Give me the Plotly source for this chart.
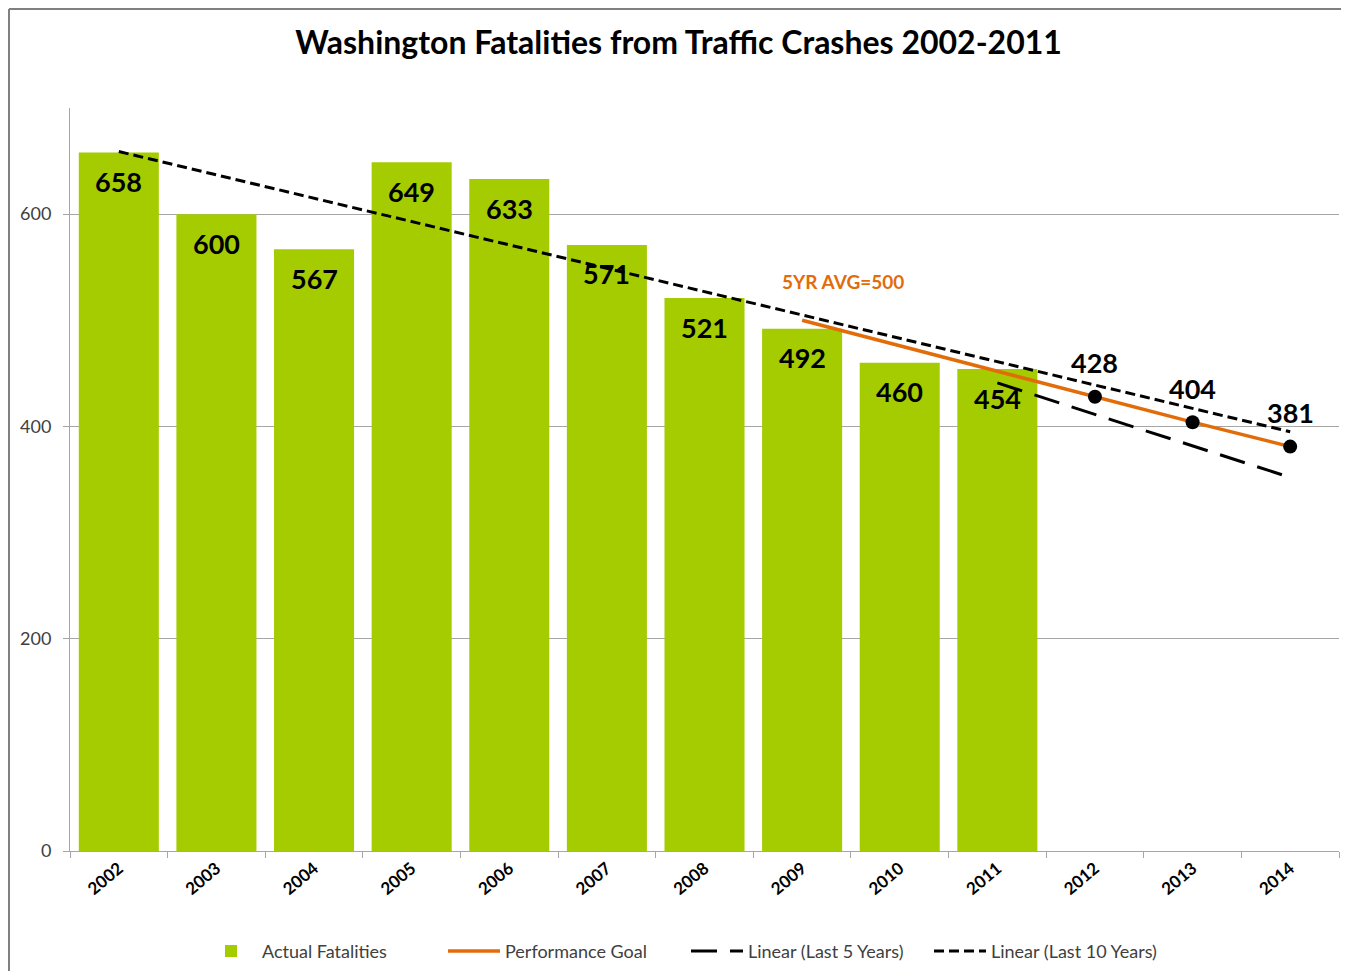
import plotly.graph_objects as go

# ---------------- data ----------------
years_all = ["2002", "2003", "2004", "2005", "2006", "2007", "2008",
             "2009", "2010", "2011", "2012", "2013", "2014"]
bar_years = ["2002", "2003", "2004", "2005", "2006", "2007", "2008",
             "2009", "2010", "2011"]
fatalities = [658, 600, 567, 649, 633, 571, 521, 492, 460, 454]

goal_years = ["2009", "2010", "2011", "2012", "2013", "2014"]
goal_values = [500, 476, 452, 428, 404, 381]
goal_marked = [False, False, False, True, True, True]

lin5_years = ["2011", "2014"]
lin5_values = [441, 352]

lin10_years = ["2002", "2014"]
lin10_values = [659, 395]

y_ticks = [0, 200, 400, 600]

TITLE = "Washington Fatalities from Traffic Crashes 2002-2011"
AVG_NOTE = "5YR AVG=500"

# ---------------- style ----------------
FONT = "Lato"
BAR_COLOR = "#A4CC00"
ORANGE = "#E36C0A"
GRID = "#A6A6A6"
TEXT_GREY = "#404040"

# page body has an 8px margin; figure is sized to fit inside the window
W, H = 1333, 963

fig = go.Figure()

fig.add_trace(go.Bar(
    x=bar_years, y=fatalities, name="Actual Fatalities",
    marker=dict(color=BAR_COLOR, line=dict(width=0)),
    hoverinfo="x+y",
))

fig.add_trace(go.Scatter(
    x=goal_years, y=goal_values, name="Performance Goal",
    mode="lines",
    line=dict(color=ORANGE, width=3.5),
))

mk_x = [yr for yr, m in zip(goal_years, goal_marked) if m]
mk_y = [v for v, m in zip(goal_values, goal_marked) if m]
fig.add_trace(go.Scatter(
    x=mk_x, y=mk_y, name="Performance Goal", mode="markers",
    marker=dict(color="black", size=14, line=dict(width=0)),
    showlegend=False,
))

fig.add_trace(go.Scatter(
    x=lin5_years, y=lin5_values, name="Linear (Last 5 Years)",
    mode="lines", line=dict(color="black", width=3, dash="26px,13px"),
))

fig.add_trace(go.Scatter(
    x=lin10_years, y=lin10_values, name="Linear (Last 10 Years)",
    mode="lines", line=dict(color="black", width=3, dash="10px,5px"),
))

annotations = []
for yr, v in zip(bar_years, fatalities):
    annotations.append(dict(
        x=years_all.index(yr), y=v, xref="x", yref="y", text=str(v),
        showarrow=False, yanchor="middle", yshift=-29,
        font=dict(family=FONT, size=27, color="black", weight="bold"),
    ))
for yr, v in zip(mk_x, mk_y):
    annotations.append(dict(
        x=years_all.index(yr), y=v, xref="x", yref="y", text=str(v),
        showarrow=False, yanchor="middle", yshift=34,
        font=dict(family=FONT, size=27, color="black", weight="bold"),
    ))
annotations.append(dict(
    x=7.42, y=537, xref="x", yref="y", text=AVG_NOTE, showarrow=False,
    font=dict(family=FONT, size=19, color=ORANGE, weight="bold"),
))

fig.update_layout(
    width=W, height=H,
    margin=dict(l=62, r=2, t=100, b=120, autoexpand=False),
    paper_bgcolor="white", plot_bgcolor="white",
    font=dict(family=FONT, color=TEXT_GREY),
    title=dict(text=TITLE, x=670.5 / W, xref="container", xanchor="center",
               y=1 - 35 / H, yref="container", yanchor="middle",
               font=dict(family=FONT, size=32, color="black", weight="bold")),
    bargap=0.18,
    showlegend=True,
    legend=dict(orientation="h", x=(200 - 70) / 1269, xanchor="left",
                y=-0.135, yanchor="middle",
                font=dict(family=FONT, size=18, color=TEXT_GREY),
                itemwidth=52, entrywidth=176, entrywidthmode="pixels",
                tracegroupgap=0),
    annotations=annotations,
    xaxis=dict(type="category", categoryorder="array", categoryarray=years_all,
               range=[-0.5, len(years_all) - 0.5],
               tickson="boundaries", ticks="outside", ticklen=6,
               tickcolor=GRID, showline=True, linecolor=GRID, linewidth=1,
               showgrid=False, tickangle=-40,
               tickfont=dict(family=FONT, size=17, color="black", weight="bold")),
    yaxis=dict(range=[0, 700], tickvals=y_ticks, ticks="outside", ticklen=6,
               tickcolor=GRID, showline=True, linecolor=GRID, linewidth=1,
               showgrid=True, gridcolor=GRID, gridwidth=1, zeroline=False,
               ticklabelstandoff=8,
               tickfont=dict(family=FONT, size=18, color=TEXT_GREY)),
    shapes=[
        dict(type="line", xref="paper", yref="paper",
             x0=(9 - 70) / 1269, x1=(1349 - 70) / 1269,
             y0=(851 - 9) / 743, y1=(851 - 9) / 743,
             line=dict(color="#808080", width=2)),
        dict(type="line", xref="paper", yref="paper",
             x0=(9 - 70) / 1269, x1=(9 - 70) / 1269,
             y0=(851 - 9) / 743, y1=(851 - 975) / 743,
             line=dict(color="#808080", width=2)),
    ],
)

fig.write_html("out.html")
